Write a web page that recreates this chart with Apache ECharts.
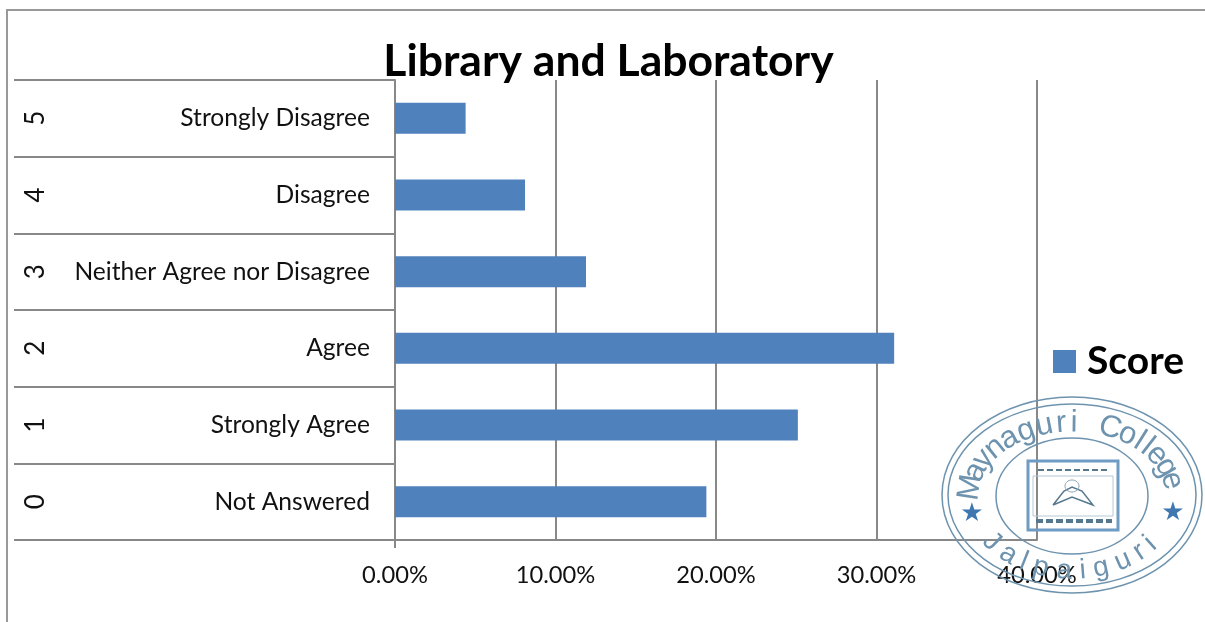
<!DOCTYPE html>
<html><head><meta charset="utf-8">
<style>html,body{margin:0;padding:0;background:#fff}#c{width:1205px;height:622px}</style>
<script src="https://cdn.jsdelivr.net/npm/echarts@6/dist/echarts.min.js"></script>
</head><body><div id="c"></div>
<script>
var categories = ["Not Answered","Strongly Agree","Agree","Neither Agree nor Disagree","Disagree","Strongly Disagree"];
var codes = ["0","1","2","3","4","5"];
var scores = [19.4,25.1,31.1,11.9,8.1,4.4];
var seriesName = "Score";
var titleText = "Library and Laboratory";
var stampTop = "Maynaguri College";
var stampBottom = "Jalpaiguri";

var stampColor = "#6d93ae", font = "Lato", lineC = "#888888";
var cx = 1072, cy = 495;
function weight(ch){ return "il".indexOf(ch)>=0 ? 0.55 : (ch==="M" ? 1.3 : (ch===" " ? 1.1 : (ch==="r" ? 0.75 : 1))); }
function arcText(str, t0, t1, rx, ry, size, bottom){
  var chars = str.split(""), total = 0, pos = [];
  chars.forEach(function(ch,i){
    var w = weight(ch);
    if(i>0) total += w/2;
    pos.push(total);
    total += w/2;
  });
  return chars.map(function(ch,i){
    var t = (t0 + (t1-t0)*pos[i]/total)*Math.PI/180;
    var dx = bottom ? rx*Math.sin(t) : -rx*Math.sin(t);
    var dy = bottom ? -ry*Math.cos(t) : ry*Math.cos(t);
    return {type:"text", x:cx+rx*Math.cos(t), y:cy+ry*Math.sin(t), rotation:-Math.atan2(dy,dx), silent:true, z:1,
      style:{text:ch, x:0, y:0, align:"center", verticalAlign:"middle", fill:stampColor,
        font:size+"px 'Liberation Sans'"}};
  }).filter(function(e){return e.style.text!==" ";});
}
function ring(rx,ry,lw,dcx,dcy){
  return {type:"ellipse", silent:true, z:1, shape:{cx:cx+(dcx||0),cy:cy+(dcy||0),rx:rx,ry:ry},
    style:{fill:"none",stroke:stampColor,lineWidth:lw}};
}
var graphics = [
  {type:"polyline", silent:true, z:1, shape:{points:[[7,622],[7,10],[1205,10]]}, style:{fill:"none",stroke:"#999999",lineWidth:2}},
  ring(130,98,1.5), ring(124,91,1.5), ring(76,58,1.5,0,1),
  {type:"rect", silent:true, z:1, shape:{x:1028,y:461,width:90,height:69}, style:{fill:"none",stroke:"#6f9cc4",lineWidth:3}},
  {type:"rect", silent:true, z:1, shape:{x:1033,y:476,width:80,height:40}, style:{fill:"none",stroke:"#b5c8d6",lineWidth:1}},
  {type:"line", silent:true, z:1, shape:{x1:1038,y1:470,x2:1110,y2:470}, style:{stroke:"#55788f",lineWidth:2,lineDash:[6,3]}},
  {type:"line", silent:true, z:1, shape:{x1:1036,y1:521,x2:1112,y2:521}, style:{stroke:"#55788f",lineWidth:4,lineDash:[7,3]}},
  {type:"polyline", silent:true, z:1, shape:{points:[[1053,505],[1064,491],[1072,487],[1082,491],[1093,505],[1072,497],[1053,505]]}, style:{fill:"none",stroke:"#55788f",lineWidth:1.5}},
  {type:"ellipse", silent:true, z:1, shape:{cx:1072,cy:486,rx:7,ry:6}, style:{fill:"none",stroke:"#8aa3b5",lineWidth:1}},
  {type:"text", silent:true, z:1, x:972, y:514, style:{text:"★", align:"center", verticalAlign:"middle", fill:"#3f78b0", font:"26px 'DejaVu Sans'"}},
  {type:"text", silent:true, z:1, x:1173, y:513, style:{text:"★", align:"center", verticalAlign:"middle", fill:"#3f78b0", font:"26px 'DejaVu Sans'"}}
].concat(arcText(stampTop,-174,-6,102,72,31,false)).concat(arcText(stampBottom,142,36,102,76,28,true));

var chart = echarts.init(document.getElementById("c"), null, {renderer:"canvas"});
chart.setOption({
  animation:false,
  backgroundColor:"#ffffff",
  title:{text:titleText, left:608.5, top:39, textAlign:"center", textStyle:{fontFamily:font,fontWeight:"bold",fontSize:44.5,color:"#000"}, padding:0},
  legend:{show:true, data:[seriesName], left:1053, top:342, padding:0, icon:"rect", itemWidth:23, itemHeight:23, itemGap:11,
    textStyle:{fontFamily:font,fontWeight:"bold",fontSize:39,color:"#000",padding:[0,0,0,6]}},
  grid:{left:395, right:168, top:80, height:460, containLabel:false},
  xAxis:[
    {type:"value", min:0, max:40, interval:10,
      axisLine:{show:true,lineStyle:{color:lineC,width:2}},
      axisTick:{show:false},
      splitLine:{show:true,lineStyle:{color:lineC,width:2}},
      axisLabel:{margin:23,fontFamily:font,fontSize:23.7,color:"#111",formatter:function(v){return v.toFixed(2)+"%";}}},
    {type:"value", min:0, max:40, interval:10, position:"bottom",
      axisLine:{show:false},
      axisTick:{show:true,customValues:[0],length:8,lineStyle:{color:lineC,width:2}},
      splitLine:{show:false},
      axisLabel:{show:false}}
  ],
  yAxis:[
    {type:"category", data:categories,
      axisLine:{show:true,onZero:false,lineStyle:{color:lineC,width:2}},
      axisTick:{show:true,length:381,lineStyle:{color:lineC,width:2}},
      axisLabel:{margin:25,padding:[2,0,0,0],fontFamily:font,fontSize:24.6,color:"#111"}},
    {type:"category", data:codes, position:"left", offset:341,
      axisLine:{show:false}, axisTick:{show:false},
      axisLabel:{rotate:90,margin:5,fontFamily:font,fontSize:26,color:"#111"}}
  ],
  series:[{name:seriesName,type:"bar",data:scores,xAxisIndex:0,yAxisIndex:0,barWidth:31,itemStyle:{color:"#4f81bd"},z:3}],
  graphic:{elements:graphics}
});
</script></body></html>
